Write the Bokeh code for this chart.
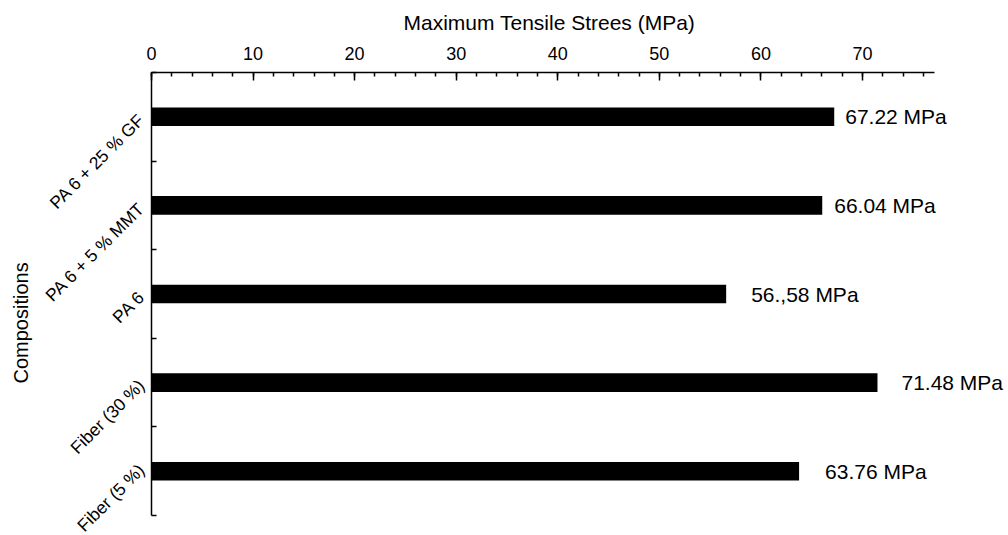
from math import pi
from bokeh.plotting import figure
from bokeh.models import Range1d, FixedTicker, SingleIntervalTicker, LabelSet, ColumnDataSource, Title
from bokeh.core.properties import value
from bokeh.embed import file_html
from bokeh.resources import INLINE

# ---- data ----
categories = ["PA 6 + 25 % GF", "PA 6 + 5 % MMT", "PA 6", "Fiber (30 %)", "Fiber (5 %)"]
values = [67.22, 66.04, 56.58, 71.48, 63.76]
value_labels = ["67.22 MPa", "66.04 MPa", "56.,58 MPa", "71.48 MPa", "63.76 MPa"]
label_gap_px = [11, 12, 25, 24, 26]
x_title = "Maximum Tensile Strees (MPa)"
y_title = "Compositions"

FONT = "Liberation Sans"

n = len(categories)
ypos = [i + 0.5 for i in range(n)]

src = ColumnDataSource(dict(y=ypos, v=values, lab=value_labels, gap=label_gap_px))

p = figure(width=1008, height=535,
           x_range=Range1d(0, 84.28), y_range=Range1d(n, 0),
           x_axis_location="above",
           output_backend="svg", toolbar_location=None,
           min_border_left=151, min_border_right=1,
           min_border_top=72, min_border_bottom=20)

p.hbar(y="y", left=0, right="v", height=0.21, source=src,
       fill_color="black", line_color=None)

labels = LabelSet(x="v", y="y", text="lab", x_offset="gap", source=src,
                  text_font=value(FONT), text_font_size="21px", text_color="black",
                  text_baseline="middle", text_align="left")
p.add_layout(labels)

p.grid.visible = False
p.outline_line_color = None
p.background_fill_color = "white"
p.border_fill_color = "white"

# title above (x axis title)
p.title.text = x_title
p.title.align = "left"
p.title.vertical_align = "top"
p.title.offset = 252
p.title.text_font = FONT
p.title.text_font_size = "21px"
p.title.text_font_style = "normal"
p.title.text_color = "black"
p.title.standoff = 16

# top x axis
xa = p.xaxis[0]
xa.bounds = (0, 77.1)
xa.ticker = SingleIntervalTicker(interval=10, num_minor_ticks=5)
xa.major_label_text_font = FONT
xa.major_label_text_font_size = "18px"
xa.major_label_text_color = "black"
xa.major_label_standoff = 13
xa.major_tick_in = 8
xa.major_tick_out = 0
xa.minor_tick_in = 4
xa.minor_tick_out = 0
xa.axis_line_width = 1.5
xa.major_tick_line_width = 1.5
xa.minor_tick_line_width = 1.5
xa.axis_line_color = "black"
xa.major_tick_line_color = "black"
xa.minor_tick_line_color = "black"

# left y axis
ya = p.yaxis[0]
ya.ticker = FixedTicker(ticks=ypos, minor_ticks=list(range(n + 1)))
ya.major_label_overrides = {y: c for y, c in zip(ypos, categories)}
ya.major_label_orientation = pi / 4
ya.major_label_text_font = FONT
ya.major_label_text_font_size = "17.5px"
ya.major_label_text_color = "black"
ya.major_label_standoff = 4
ya.major_tick_line_color = None
ya.minor_tick_in = 5
ya.minor_tick_out = 0
ya.minor_tick_line_width = 1.5
ya.minor_tick_line_color = "black"
ya.axis_line_width = 1.5
ya.axis_line_color = "black"

ytitle = Title(text=y_title, align="left", offset=132,
               text_font=FONT, text_font_size="20px", text_font_style="normal",
               text_color="black", standoff=0)
p.add_layout(ytitle, "left")

open("out.html", "w").write(file_html(p, INLINE))
